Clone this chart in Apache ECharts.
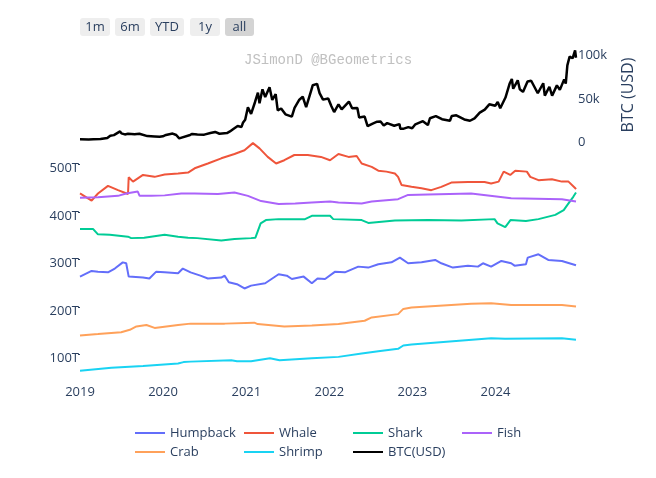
<!DOCTYPE html>
<html>
<head>
<meta charset="utf-8">
<script src="https://cdn.jsdelivr.net/npm/echarts@6/dist/echarts.min.js"></script>
<style>
html,body{margin:0;padding:0;background:#fff;}
#chart{width:656px;height:478px;}
</style>
</head>
<body>
<div id="chart"></div>
<script>
// ---- data ----
const yearTicks = ['2019-01-01','2020-01-01','2021-01-01','2022-01-01','2023-01-01','2024-01-01'];
const cohortTicks = [100, 200, 300, 400, 500];   // T
const btcTicks = [0, 50000, 100000];             // USD

const humpback = [['2019-01-01',264],['2019-02-21',276],['2019-03-21',274],['2019-05-04',273],['2019-06-03',281],['2019-07-08',294],['2019-07-23',292],['2019-08-03',264],['2019-10-05',262],['2019-11-02',260],['2019-12-01',274],['2020-01-08',273],['2020-03-07',271],['2020-03-28',281],['2020-05-01',273],['2020-06-13',266],['2020-07-16',260],['2020-09-13',262],['2020-09-28',266],['2020-10-16',252],['2020-11-21',248],['2020-12-24',239],['2021-01-22',245],['2021-03-25',250],['2021-05-23',269],['2021-06-28',266],['2021-07-20',259],['2021-09-10',264],['2021-10-16',250],['2021-11-10',260],['2021-12-13',259],['2022-01-25',274],['2022-03-10',273],['2022-05-08',285],['2022-06-21',283],['2022-08-04',290],['2022-10-01',294],['2022-11-07',304],['2022-12-13',292],['2023-02-10',294],['2023-04-11',299],['2023-05-08',292],['2023-06-28',283],['2023-09-02',287],['2023-10-16',285],['2023-11-07',292],['2023-12-13',285],['2024-01-27',297],['2024-03-10',292],['2024-03-25',287],['2024-05-14',290],['2024-05-22',304],['2024-07-08',311],['2024-08-20',299],['2024-10-19',297],['2024-12-20',288]];

const whale = [['2019-01-01',439],['2019-02-21',424],['2019-03-21',439],['2019-05-04',455],['2019-06-17',446],['2019-07-31',438],['2019-08-03',473],['2019-08-22',464],['2019-10-05',478],['2019-11-25',474],['2020-01-08',479],['2020-03-07',481],['2020-04-20',483],['2020-05-19',492],['2020-07-16',502],['2020-09-13',513],['2020-11-10',522],['2020-12-24',530],['2021-01-30',545],['2021-02-28',534],['2021-04-05',516],['2021-05-12',502],['2021-06-17',509],['2021-07-31',520],['2021-09-28',520],['2021-11-25',516],['2022-01-04',509],['2022-02-10',522],['2022-03-26',516],['2022-05-01',518],['2022-05-23',502],['2022-07-06',495],['2022-08-04',487],['2022-09-09',485],['2022-10-16',481],['2022-10-30',474],['2022-11-14',457],['2022-12-28',453],['2023-02-10',450],['2023-03-25',446],['2023-05-08',453],['2023-06-21',462],['2023-09-02',463],['2023-11-14',463],['2023-12-13',460],['2024-01-15',464],['2024-02-06',485],['2024-03-06',478],['2024-03-28',487],['2024-05-18',485],['2024-06-02',474],['2024-07-08',467],['2024-09-05',469],['2024-10-19',464],['2024-11-17',464],['2024-12-17',450],['2024-12-20',448]];

const shark = [['2019-01-01',364],['2019-02-28',364],['2019-03-21',353],['2019-05-12',352],['2019-07-31',348],['2019-08-14',345],['2019-10-10',346],['2020-01-08',352],['2020-03-07',348],['2020-04-20',346],['2020-05-30',345],['2020-09-13',340],['2020-11-10',343],['2021-01-22',345],['2021-02-10',346],['2021-03-05',376],['2021-03-28',383],['2021-05-23',385],['2021-09-16',385],['2021-10-16',392],['2022-01-04',392],['2022-01-18',385],['2022-05-23',383],['2022-06-21',377],['2022-10-16',382],['2023-03-10',383],['2023-08-04',382],['2023-12-28',385],['2024-01-10',376],['2024-02-13',368],['2024-03-07',383],['2024-05-14',381],['2024-07-08',385],['2024-09-20',394],['2024-10-27',404],['2024-11-17',418],['2024-12-08',432],['2024-12-20',441]];

const fish = [['2019-01-01',430],['2019-03-21',431],['2019-06-17',434],['2019-07-23',439],['2019-09-12',443],['2019-09-20',434],['2019-11-10',434],['2020-01-08',435],['2020-03-21',439],['2020-05-19',439],['2020-08-29',438],['2020-11-10',441],['2021-01-08',434],['2021-03-07',423],['2021-05-23',417],['2021-08-04',418],['2021-10-16',420],['2022-01-04',422],['2022-02-10',420],['2022-05-23',418],['2022-07-06',422],['2022-10-30',427],['2022-12-13',436],['2023-03-10',437],['2023-09-16',439],['2024-03-10',429],['2024-10-19',427],['2024-12-20',422]];

const crab = [['2019-01-01',140],['2019-03-21',143],['2019-07-01',147],['2019-08-08',152],['2019-09-06',159],['2019-10-20',162],['2019-11-25',156],['2020-03-07',162],['2020-05-01',165],['2020-09-13',165],['2020-09-20',162],['2020-09-28',165],['2021-02-05',167],['2021-02-20',164],['2021-06-17',159],['2021-10-16',161],['2022-02-10',164],['2022-06-05',171],['2022-07-06',178],['2022-10-30',185],['2022-11-22',196],['2022-12-28',199],['2023-09-16',207],['2023-12-13',208],['2024-03-10',204],['2024-10-19',204],['2024-12-20',201]];

const shrimp = [['2019-01-01',66],['2019-05-19',72],['2019-10-05',76],['2020-03-07',81],['2020-03-31',84],['2020-05-01',85],['2020-10-27',88],['2020-11-21',86],['2021-01-22',86],['2021-04-15',92],['2021-05-27',88],['2021-10-16',92],['2022-02-10',95],['2022-05-23',102],['2022-08-04',107],['2022-10-30',112],['2022-11-22',119],['2022-12-28',121],['2023-12-13',134],['2024-02-12',133],['2024-10-19',134],['2024-12-20',131]];

const btc = [['2019-01-01',3800],['2019-02-08',3650],['2019-03-01',3850],['2019-04-01',4100],['2019-04-03',4900],['2019-05-01',5350],['2019-05-14',8000],['2019-05-30',8600],['2019-06-05',7800],['2019-06-26',12900],['2019-07-02',10600],['2019-07-10',12600],['2019-07-17',9400],['2019-07-31',10100],['2019-08-06',11500],['2019-08-29',9500],['2019-09-19',10200],['2019-09-24',8500],['2019-10-24',7450],['2019-10-26',9250],['2019-11-25',7100],['2019-12-17',6650],['2019-12-31',7200],
['2020-01-14',8800],['2020-02-12',10350],['2020-02-28',8700],['2020-03-12',4900],['2020-03-19',6200],['2020-04-29',8800],['2020-05-08',9900],['2020-05-31',9450],['2020-06-30',9150],['2020-07-27',11000],['2020-08-17',12250],['2020-09-05',10200],['2020-10-08',10900],['2020-10-21',12800],['2020-11-05',15600],['2020-11-24',19100],['2020-12-11',18000],['2020-12-17',22800],['2020-12-27',26300],
['2021-01-08',40600],['2021-01-22',33000],['2021-01-29',34300],['2021-02-08',46400],['2021-02-21',57500],['2021-02-28',45200],['2021-03-13',61200],['2021-03-25',52300],['2021-04-13',63500],['2021-04-25',49000],['2021-05-10',55800],['2021-05-19',37000],['2021-06-03',39200],['2021-06-22',32500],['2021-07-20',29800],['2021-08-01',40000],['2021-08-22',49300],['2021-09-06',52700],['2021-09-21',40700],['2021-10-15',61500],['2021-10-20',66000],['2021-11-08',67500],['2021-11-19',56900],['2021-12-04',49400],['2021-12-27',50700],
['2022-01-10',41800],['2022-01-22',35100],['2022-02-10',43900],['2022-02-24',38300],['2022-03-28',47200],['2022-04-11',39500],['2022-05-04',39700],['2022-05-12',28900],['2022-06-05',29900],['2022-06-18',19000],['2022-07-08',21600],['2022-07-30',24000],['2022-08-14',24300],['2022-08-28',19600],['2022-09-12',22400],['2022-10-13',19400],['2022-11-05',21300],['2022-11-09',15900],['2022-11-21',15800],['2022-12-14',17800],['2022-12-31',16550],
['2023-01-14',21000],['2023-02-16',24600],['2023-03-10',20200],['2023-03-19',28000],['2023-04-14',30500],['2023-05-11',26900],['2023-06-15',25100],['2023-06-23',30700],['2023-07-13',31400],['2023-08-17',26600],['2023-09-11',25100],['2023-10-01',27900],['2023-10-24',34500],['2023-11-15',37900],['2023-12-05',44000],['2023-12-31',42300],
['2024-01-11',46600],['2024-01-22',39500],['2024-02-14',51800],['2024-03-04',68300],['2024-03-13',73100],['2024-03-19',61900],['2024-04-08',71600],['2024-04-17',61300],['2024-05-01',58300],['2024-05-21',70200],['2024-06-06',71100],['2024-07-05',56700],['2024-07-29',68200],['2024-08-05',54000],['2024-08-25',64200],['2024-09-06',54000],['2024-09-27',65800],['2024-10-10',60600],['2024-10-29',72700],['2024-11-05',67800],['2024-11-12',88700],['2024-11-22',98900],['2024-12-05',96900],['2024-12-16',106100],['2024-12-20',97500]];

const buttons = ['1m','6m','YTD','1y','all'];

// ---- chart ----
const FONT = "'Open Sans', sans-serif";
const TXT = '#2a3f5f';
const xMin = '2019-01-01', xMax = '2024-12-20';
const toTs = s => { const p = s.split('-'); return new Date(+p[0], +p[1]-1, +p[2]).getTime(); };
const conv = arr => arr.map(d => [toTs(d[0]), d[1]]);

const chart = echarts.init(document.getElementById('chart'), null, {renderer:'canvas'});

const btnX = [80, 115, 150, 190, 225];
const btnW = [30, 30, 34, 30, 29];
const btnGraphics = buttons.map((b, i) => ({
  type: 'group', left: btnX[i], top: 18,
  children: [
    {type:'rect', shape:{x:0,y:0,width:btnW[i],height:18,r:3}, style:{fill: b==='all' ? '#d4d4d4' : '#eeeeee'}},
    {type:'text', x: btnW[i]/2, y: 9, style:{text:b, fill:TXT, font:"13px 'Open Sans'", align:'center', verticalAlign:'middle'}}
  ]
}));

function lineSeries(name, data, color, xi, yi, w) {
  return {name, type:'line', data: conv(data), xAxisIndex:xi, yAxisIndex:yi, showSymbol:false, symbol:'none',
    lineStyle:{color, width:w||2}, itemStyle:{color}, emphasis:{disabled:true}, silent:true};
}

const legendCommon = {
  left: 135, padding: 0, itemWidth: 30, itemHeight: 2, itemGap: 0, icon: 'rect', orient:'horizontal',
  textStyle: {color: TXT, fontFamily: FONT, fontSize: 13, width: 74, lineHeight: 16},
  selectedMode: false
};

chart.setOption({
  animation: false,
  backgroundColor: '#fff',
  textStyle: {fontFamily: FONT},
  grid: [
    {left: 80, right: 80, top: 46.9, height: 95.7},
    {left: 80, right: 80, top: 136, height: 242.25}
  ],
  xAxis: [
    {type:'value', gridIndex:0, min:toTs(xMin), max:toTs(xMax), show:false},
    {type:'value', gridIndex:1, min:toTs(xMin), max:toTs(xMax),
      axisLine:{show:false}, axisTick:{show:false}, splitLine:{show:false},
      axisLabel:{customValues: yearTicks.map(toTs), formatter: v => String(new Date(v).getFullYear()),
        color:TXT, fontFamily:FONT, fontSize:13, margin:8, hideOverlap:false}}
  ],
  yAxis: [
    {type:'value', gridIndex:0, position:'right', min:0, max:110000,
      axisLine:{show:false}, axisTick:{show:false}, splitLine:{show:false},
      axisLabel:{customValues: btcTicks, formatter: v => v===0 ? '0' : (v/1000)+'k', color:TXT, fontFamily:FONT, fontSize:13, margin:2}},
    {type:'value', gridIndex:1, min:50, max:560,
      axisLine:{show:false}, splitLine:{show:false},
      axisTick:{show:true, customValues: cohortTicks, length:2, lineStyle:{color:TXT, width:1}},
      axisLabel:{customValues: cohortTicks, formatter: v => v+'T', color:TXT, fontFamily:FONT, fontSize:13, margin:1,
        verticalAlign:'top', lineHeight:8}}
  ],
  legend: [
    Object.assign({}, legendCommon, {top: 425, data:['Humpback','Whale','Shark','Fish']}),
    Object.assign({}, legendCommon, {top: 444, data:['Crab','Shrimp','BTC(USD)']})
  ],
  graphic: [
    ...btnGraphics,
    {type:'text', left: 244, top: 53, style:{text:'JSimonD @BGeometrics', fill:'#c0c0c0', font:"14px 'Liberation Mono'"}},
    {type:'text', x: 628, y: 95, rotation: Math.PI/2,
      style:{text:'BTC (USD)', fill:TXT, font:"16px 'Open Sans'", align:'center', verticalAlign:'middle'}}
  ],
  series: [
    lineSeries('Humpback', humpback, '#636efa', 1, 1),
    lineSeries('Whale', whale, '#ef553b', 1, 1),
    lineSeries('Shark', shark, '#00cc96', 1, 1),
    lineSeries('Fish', fish, '#ab63fa', 1, 1),
    lineSeries('Crab', crab, '#ffa15a', 1, 1),
    lineSeries('Shrimp', shrimp, '#19d3f3', 1, 1),
    lineSeries('BTC(USD)', btc, '#000000', 0, 0, 2.5)
  ]
});
</script>
</body>
</html>
